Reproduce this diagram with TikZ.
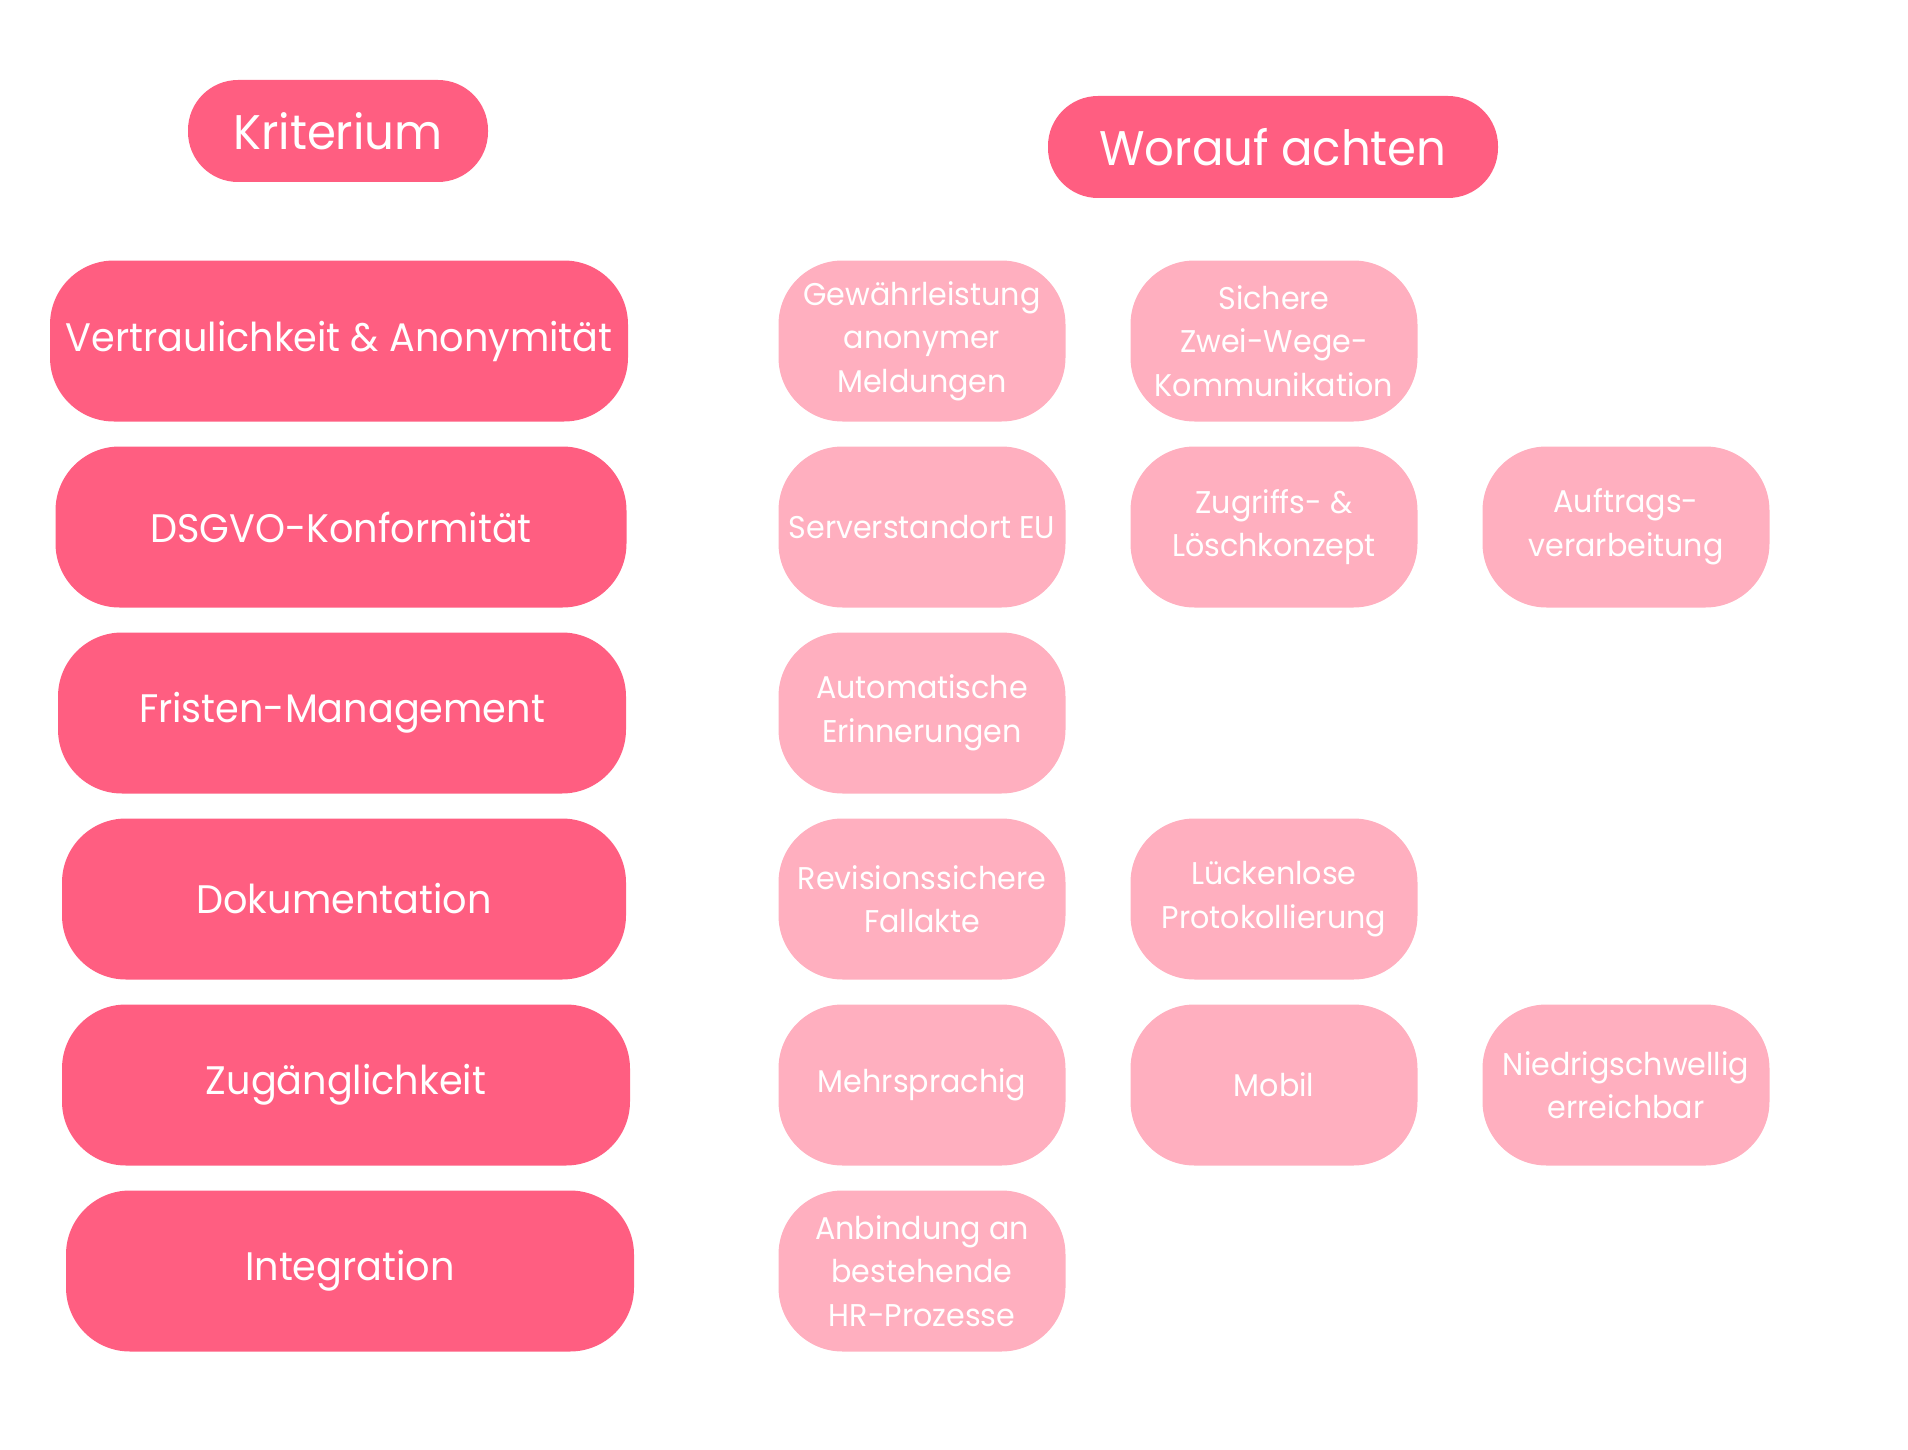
\documentclass[tikz,border=0pt]{standalone}
\usepackage{fontspec}
\setmainfont{Poppins}[FakeStretch=0.96]
\usetikzlibrary{positioning}

\definecolor{critpink}{HTML}{FF5E81}
\definecolor{hintpink}{HTML}{FFAFBF}

\begin{document}
\begin{tikzpicture}[x=0.5pt,y=-0.5pt,
					node distance=176pt,
					head node/.style={rounded corners=25pt,fill=critpink,text=white,
						minimum height=51pt,font=\fontsize{24.3}{28}\selectfont},
					crit node/.style={rounded corners=32pt,fill=critpink,text=white,
						minimum height=80.5pt,font=\fontsize{19.9}{24}\selectfont},
					hint node/.style={rounded corners=32pt,fill=hintpink,text=white,
						minimum width=143.5pt,minimum height=80.5pt,inner sep=0pt,
						align=center,font=\fontsize{15.7}{21.8}\selectfont}]

  \useasboundingbox (0,0) rectangle (1908,1450);

  % column heads
  \node[head node, minimum width=150pt] (krit) at (338,131) {Kriterium};
  \node[head node, minimum width=225pt] (worauf) at (1273,147) {Worauf achten};

  % criteria
  \node[crit node, minimum width=289pt] (vertr) at (339,341) {Vertraulichkeit \& Anonymität};
  \node[crit node, minimum width=285.5pt] (dsgvo) at (341,527) {DSGVO-Konformität};
  \node[crit node, minimum width=284pt] (frist) at (342,713) {Fristen-Management};
  \node[crit node, minimum width=282pt] (doku) at (344,899) {Dokumentation};
  \node[crit node, minimum width=284pt] (zugang) at (346,1085) {Zugänglichkeit};
  \node[crit node, minimum width=284pt] (integ) at (350,1271) {Integration};

  % what to look for
  \node[hint node] (anonym) at (922,341) {Gewährleistung\\anonymer\\Meldungen};
  \node[hint node] (zweiwege) [right of=anonym] {Sichere\\Zwei-Wege-\\Kommunikation};

  \node[hint node] (server) at (922,527) {Serverstandort EU};
  \node[hint node] (zugriff) [right of=server] {Zugriffs- \&\\Löschkonzept};
  \node[hint node] (auftrag) [right of=zugriff] {Auftrags-\\verarbeitung};

  \node[hint node] (erinner) at (922,713) {Automatische\\Erinnerungen};

  \node[hint node] (fallakte) at (922,899) {Revisionssichere\\Fallakte};
  \node[hint node] (protokoll) [right of=fallakte] {Lückenlose\\Protokollierung};

  \node[hint node] (sprachen) at (922,1085) {Mehrsprachig};
  \node[hint node] (mobil) [right of=sprachen] {Mobil};
  \node[hint node] (niedrig) [right of=mobil] {Niedrigschwellig\\erreichbar};

  \node[hint node] (hrproz) at (922,1271) {Anbindung an\\bestehende\\HR-Prozesse};
\end{tikzpicture}
\end{document}
